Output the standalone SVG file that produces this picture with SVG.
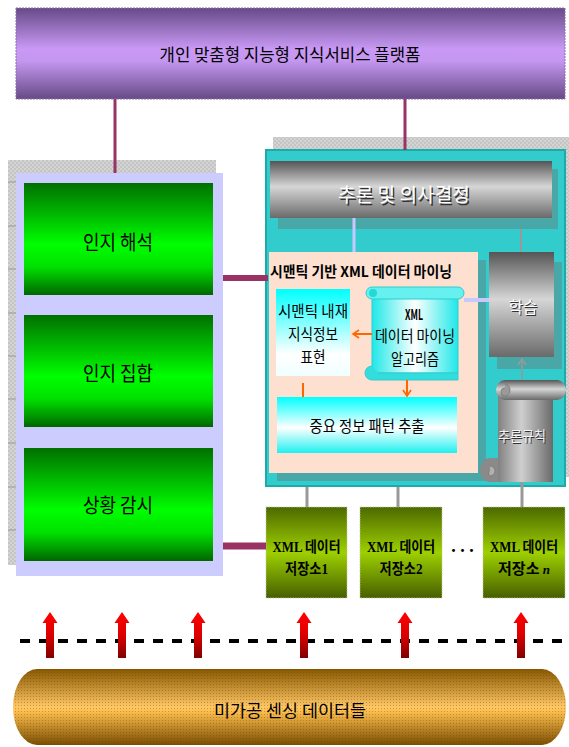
<svg xmlns="http://www.w3.org/2000/svg" width="569" height="747" viewBox="0 0 569 747">
<style>
.k{font-family:"Noto Sans CJK KR",sans-serif;fill:#000}
.s{font-family:"Liberation Serif","Noto Sans CJK KR",serif;fill:#000;font-weight:bold}
.w{font-family:"Noto Sans CJK KR",sans-serif;fill:#fff}
.sh{font-family:"Noto Sans CJK KR",sans-serif;fill:#333}
.mc{stroke:#993366;fill:none}
.or{stroke:#ff6600;stroke-width:2;fill:none}
.gl{stroke:#999;stroke-width:3;fill:none}
</style>
<defs>
<pattern id="chk" width="4" height="4" patternUnits="userSpaceOnUse"><rect width="4" height="4" fill="#c4c4c4"/><rect width="2" height="2" fill="#d4d4d4"/><rect x="2" y="2" width="2" height="2" fill="#d4d4d4"/></pattern>
<pattern id="dots" width="3" height="3" patternUnits="userSpaceOnUse"><rect width="1" height="1" fill="#6b4300" opacity="0.35"/></pattern>
<linearGradient id="gP" x1="0" y1="0" x2="0" y2="1"><stop offset="0" stop-color="#674a88"/><stop offset="0.45" stop-color="#c999f5"/><stop offset="0.58" stop-color="#c597f0"/><stop offset="1" stop-color="#664a86"/></linearGradient>
<linearGradient id="gG" x1="0" y1="0" x2="0" y2="1"><stop offset="0" stop-color="#007000"/><stop offset="0.55" stop-color="#00ff00"/><stop offset="0.75" stop-color="#00e000"/><stop offset="1" stop-color="#006600"/></linearGradient>
<linearGradient id="gB" x1="0" y1="0" x2="0" y2="1"><stop offset="0" stop-color="#555"/><stop offset="0.45" stop-color="#d6d6d6"/><stop offset="1" stop-color="#6a6a6a"/></linearGradient>
<linearGradient id="gH" x1="0" y1="0" x2="1" y2="0"><stop offset="0" stop-color="#666"/><stop offset="0.5" stop-color="#cfcfcf"/><stop offset="1" stop-color="#6a6a6a"/></linearGradient>
<linearGradient id="gC1" x1="0" y1="0" x2="0" y2="1"><stop offset="0" stop-color="#00ffff"/><stop offset="0.75" stop-color="#ffffff"/><stop offset="1" stop-color="#f0ffff"/></linearGradient>
<linearGradient id="gC2" x1="0" y1="0" x2="0" y2="1"><stop offset="0" stop-color="#00ffff"/><stop offset="0.55" stop-color="#ffffff"/><stop offset="1" stop-color="#20f0f0"/></linearGradient>
<linearGradient id="gC3" x1="0" y1="0" x2="1" y2="0"><stop offset="0" stop-color="#20e8e8"/><stop offset="0.5" stop-color="#ffffff"/><stop offset="1" stop-color="#20e8e8"/></linearGradient>
<linearGradient id="gO" x1="0" y1="0" x2="0" y2="1"><stop offset="0" stop-color="#4d6900"/><stop offset="0.5" stop-color="#9dd000"/><stop offset="1" stop-color="#475f00"/></linearGradient>
<linearGradient id="gR" x1="0" y1="0" x2="0" y2="1"><stop offset="0" stop-color="#ff0000"/><stop offset="0.5" stop-color="#dd0000"/><stop offset="1" stop-color="#800000"/></linearGradient>
<linearGradient id="gY" x1="0" y1="0" x2="0" y2="1"><stop offset="0" stop-color="#875700"/><stop offset="0.5" stop-color="#ffc766"/><stop offset="0.55" stop-color="#ffc050"/><stop offset="1" stop-color="#7a4d00"/></linearGradient>
<path id="arr" d="M0,0 L7.5,11 L4,11 L4,46 L-4,46 L-4,11 L-7.5,11 Z" fill="url(#gR)"/>
<marker id="mo" markerWidth="8" markerHeight="10" refX="7" refY="5" orient="auto" markerUnits="userSpaceOnUse"><path d="M1,1 L7,5 L1,9" stroke="#ff6600" stroke-width="1.6" fill="none"/></marker>
<marker id="mg" markerWidth="8" markerHeight="10" refX="7" refY="5" orient="auto" markerUnits="userSpaceOnUse"><path d="M1,1 L7,5 L1,9" stroke="#999" stroke-width="1.5" fill="none"/></marker>
</defs>

<g id="platform">
<rect x="16" y="8" width="549" height="91" fill="url(#gP)" stroke="#8d6fae" stroke-width="1" stroke-dasharray="2 1"/>
<text class="k" x="290" y="61" font-size="17" text-anchor="middle" textLength="261" lengthAdjust="spacingAndGlyphs">개인 맞춤형 지능형 지식서비스 플랫폼</text>
</g>

<g id="cognitive-panel">
<rect x="8" y="160" width="208" height="405" fill="url(#chk)"/>
<g stroke="#999" stroke-width="1">
<line x1="8" y1="182" x2="16" y2="182"/><line x1="8" y1="226" x2="16" y2="226"/><line x1="8" y1="269" x2="16" y2="269"/><line x1="8" y1="313" x2="16" y2="313"/><line x1="8" y1="356" x2="16" y2="356"/><line x1="8" y1="399" x2="16" y2="399"/><line x1="8" y1="443" x2="16" y2="443"/><line x1="8" y1="487" x2="16" y2="487"/><line x1="8" y1="530" x2="16" y2="530"/>
</g>
<rect x="16" y="173" width="207" height="403" fill="#ccccff"/>
</g>
<g id="cog-interpret">
<rect x="24" y="183" width="189" height="112" fill="url(#gG)"/>
<text class="k" x="118" y="250" font-size="20" text-anchor="middle" textLength="70" lengthAdjust="spacingAndGlyphs">인지 해석</text>
</g>
<g id="cog-aggregate">
<rect x="24" y="315" width="189" height="112" fill="url(#gG)"/>
<text class="k" x="118" y="381" font-size="20" text-anchor="middle" textLength="70" lengthAdjust="spacingAndGlyphs">인지 집합</text>
</g>
<g id="cog-monitor">
<rect x="24" y="448" width="189" height="113" fill="url(#gG)"/>
<text class="k" x="118" y="513" font-size="20" text-anchor="middle" textLength="70" lengthAdjust="spacingAndGlyphs">상황 감시</text>
</g>

<g id="reasoning-panel">
<rect x="273" y="137" width="296" height="340" fill="url(#chk)"/>
<rect x="266" y="150" width="299" height="336" fill="#33cccc" stroke="#1faaaa" stroke-width="2"/>
<rect x="278" y="169" width="280" height="60" fill="#49a7a7"/>
<rect x="277" y="260" width="209" height="221" fill="#49a7a7"/>
<rect x="497" y="262" width="65" height="107" fill="#49a7a7"/>
</g>
<g id="decision">
<rect x="270" y="161" width="282" height="57" fill="url(#gB)"/>
<text class="sh" x="405.5" y="203.5" font-size="19" text-anchor="middle" textLength="132" lengthAdjust="spacingAndGlyphs">추론 및 의사결정</text>
<text class="w" x="404" y="202" font-size="19" text-anchor="middle" textLength="132" lengthAdjust="spacingAndGlyphs">추론 및 의사결정</text>
</g>
<g id="mining">
<rect x="269" y="252" width="209" height="221" fill="#fde0d0"/>
<text class="k" x="270" y="277" font-size="14.5" font-weight="bold" textLength="182" lengthAdjust="spacingAndGlyphs">시맨틱 기반 XML 데이터 마이닝</text>
</g>
<g id="semantic-repr">
<rect x="276" y="289" width="74" height="87" fill="url(#gC1)"/>
<text class="k" x="313" y="317" font-size="16" text-anchor="middle" textLength="70" lengthAdjust="spacingAndGlyphs">시맨틱 내재</text>
<text class="k" x="313" y="340" font-size="16" text-anchor="middle" textLength="50" lengthAdjust="spacingAndGlyphs">지식정보</text>
<text class="k" x="313" y="363" font-size="16" text-anchor="middle" textLength="25" lengthAdjust="spacingAndGlyphs">표현</text>
</g>
<g id="xml-algorithm">
<path d="M372,294 L458,294 L458,373 L378,373 Q372,373 372,367 Z" fill="url(#gC3)" stroke="#33cccc" stroke-width="1"/>
<rect x="366" y="287" width="98" height="12" rx="6" fill="#66f0f0" stroke="#33cccc" stroke-width="1"/>
<circle cx="373" cy="293" r="4" fill="#22d8d8"/>
<path d="M372,366 A7,7 0 1 0 372,380 L458,380 L458,373 L378,373" fill="#33dddd" stroke="#33cccc" stroke-width="1"/>
<text class="k" x="414" y="320" font-size="14" font-weight="bold" text-anchor="middle" textLength="18" lengthAdjust="spacingAndGlyphs">XML</text>
<text class="k" x="415" y="342" font-size="16" text-anchor="middle" textLength="80" lengthAdjust="spacingAndGlyphs">데이터 마이닝</text>
<text class="k" x="415" y="365" font-size="16" text-anchor="middle" textLength="48" lengthAdjust="spacingAndGlyphs">알고리즘</text>
</g>
<g id="pattern-extract">
<rect x="277" y="397" width="180" height="56" fill="url(#gC2)"/>
<text class="k" x="367" y="432" font-size="16" text-anchor="middle" textLength="115" lengthAdjust="spacingAndGlyphs">중요 정보 패턴 추출</text>
</g>
<g id="learning">
<rect x="489" y="252" width="65" height="105" fill="url(#gB)"/>
<text class="sh" x="524" y="314" font-size="16" text-anchor="middle" textLength="29" lengthAdjust="spacingAndGlyphs">학습</text>
<text class="w" x="523" y="313" font-size="16" text-anchor="middle" textLength="29" lengthAdjust="spacingAndGlyphs">학습</text>
</g>
<g id="rules">
<path d="M498,392 L553,392 L553,482 L490,482 L490,468 L498,468 Z" fill="url(#gH)"/>
<path d="M505,380 L557,380 A9,10 0 0 1 557,400 L505,400 A9,10 0 0 1 505,380 Z" fill="url(#gB)"/>
<path d="M505,384 A5,6 0 0 1 505,396 A4,4 0 0 1 505,388" fill="#9a9a9a" stroke="#777" stroke-width="0.8"/>
<path d="M498,458 L490,458 A10,12 0 0 0 490,482 L498,482 Z" fill="#8a8a8a"/>
<path d="M490,466 A5,5 0 0 1 490,476 A4,4 0 0 1 490,470" fill="#b0b0b0" stroke="#777" stroke-width="0.8"/>
<text class="sh" x="523" y="442" font-size="13.5" text-anchor="middle" textLength="48" lengthAdjust="spacingAndGlyphs">추론규칙</text>
<text class="w" x="522" y="441" font-size="13.5" text-anchor="middle" textLength="48" lengthAdjust="spacingAndGlyphs" opacity="0.9">추론규칙</text>
</g>

<g id="store-1">
<rect x="266" y="507" width="81" height="91" fill="url(#gO)" stroke="#c8c8a0" stroke-width="0.8" stroke-dasharray="1.5 1"/>
<text class="s" x="306.5" y="552" font-size="15" text-anchor="middle" textLength="68" lengthAdjust="spacingAndGlyphs">XML 데이터</text>
<text class="s" x="306.5" y="574" font-size="15" text-anchor="middle" textLength="43" lengthAdjust="spacingAndGlyphs">저장소1</text>
</g>
<g id="store-2">
<rect x="360" y="507" width="82" height="91" fill="url(#gO)" stroke="#c8c8a0" stroke-width="0.8" stroke-dasharray="1.5 1"/>
<text class="s" x="401" y="552" font-size="15" text-anchor="middle" textLength="68" lengthAdjust="spacingAndGlyphs">XML 데이터</text>
<text class="s" x="401" y="574" font-size="15" text-anchor="middle" textLength="43" lengthAdjust="spacingAndGlyphs">저장소2</text>
</g>
<g id="store-dots">
<text class="s" x="464" y="557" font-size="18" text-anchor="middle" letter-spacing="3">···</text>
</g>
<g id="store-n">
<rect x="483" y="507" width="82" height="91" fill="url(#gO)" stroke="#c8c8a0" stroke-width="0.8" stroke-dasharray="1.5 1"/>
<text class="s" x="524" y="552" font-size="15" text-anchor="middle" textLength="68" lengthAdjust="spacingAndGlyphs">XML 데이터</text>
<text class="s" x="524" y="574" font-size="15" text-anchor="middle">저장소<tspan font-style="italic" font-size="13"> n</tspan></text>
</g>

<g id="raw-data">
<rect x="13" y="669" width="553" height="76" rx="24" ry="38" fill="url(#gY)"/>
<rect x="13" y="669" width="553" height="76" rx="24" ry="38" fill="url(#dots)"/>
<text class="k" x="290" y="717" font-size="17" text-anchor="middle" textLength="152" lengthAdjust="spacingAndGlyphs">미가공 센싱 데이터들</text>
</g>

<g id="connectors">
<line class="mc" x1="115" y1="99" x2="115" y2="173" stroke-width="3"/>
<line class="mc" x1="405" y1="99" x2="405" y2="150" stroke-width="3"/>
<line class="mc" x1="223" y1="278" x2="268" y2="278" stroke-width="6"/>
<line class="mc" x1="223" y1="546" x2="266" y2="546" stroke-width="7"/>
<line x1="354" y1="218" x2="354" y2="252" stroke="#c8c8ff" stroke-width="3"/>
<line x1="521" y1="229" x2="521" y2="252" stroke="#999" stroke-width="2"/>
<line x1="464" y1="300" x2="489" y2="300" stroke="#c8c8ff" stroke-width="4"/>
<line class="or" x1="372" y1="334" x2="353" y2="334" marker-end="url(#mo)"/>
<line class="or" x1="407" y1="380" x2="407" y2="396" marker-end="url(#mo)"/>
<line class="or" x1="303" y1="383" x2="303" y2="397"/>
<line x1="522" y1="380" x2="522" y2="359" stroke="#999" stroke-width="1.5" marker-end="url(#mg)"/>
<line class="gl" x1="307" y1="487" x2="307" y2="507"/>
<line class="gl" x1="398" y1="487" x2="398" y2="507"/>
<line class="gl" x1="522" y1="482" x2="522" y2="507"/>
<line x1="20" y1="641" x2="569" y2="641" stroke="#000" stroke-width="4" stroke-dasharray="10 9"/>
<use href="#arr" x="50" y="612"/>
<use href="#arr" x="122" y="612"/>
<use href="#arr" x="198" y="612"/>
<use href="#arr" x="304" y="612"/>
<use href="#arr" x="405" y="612"/>
<use href="#arr" x="521" y="612"/>
</g>
</svg>
